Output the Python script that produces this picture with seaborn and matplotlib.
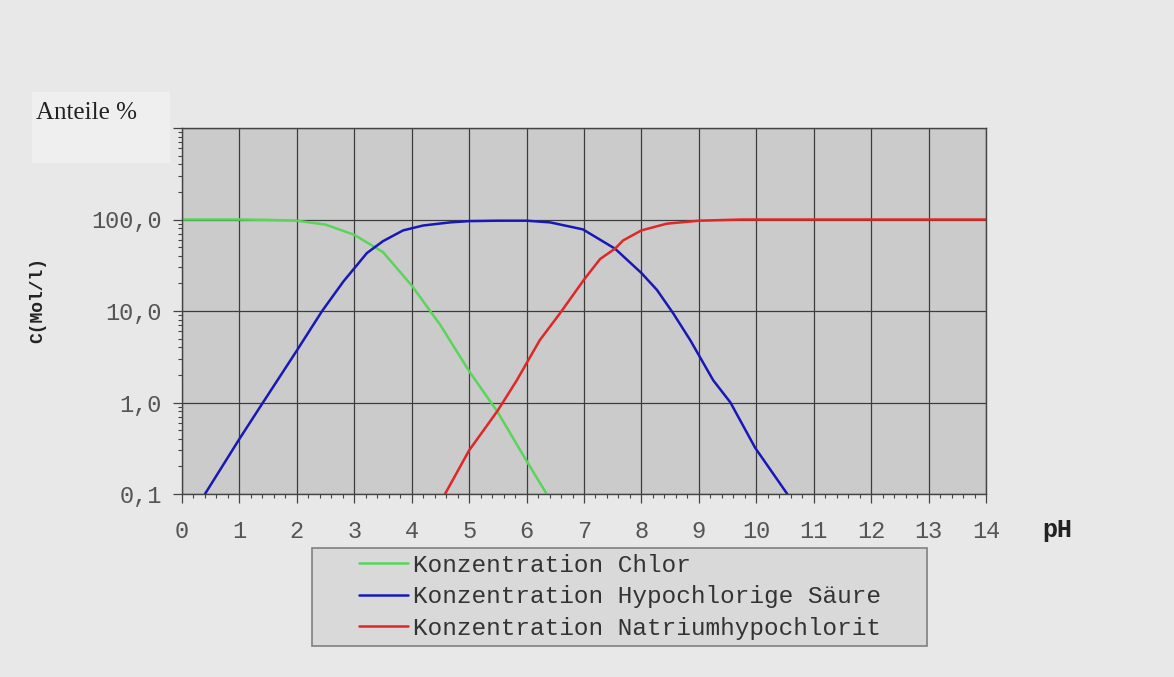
import pandas as pd
import seaborn as sns
import matplotlib.pyplot as plt
from matplotlib.patches import Rectangle
from matplotlib.ticker import MultipleLocator, LogLocator, FixedLocator, FixedFormatter, NullFormatter

# values (pH, concentration in %)
ph_chlor = [0.0, 1.0, 1.5, 2.0, 2.5, 3.0, 3.5, 4.0, 4.5, 5.0, 5.5, 6.0, 6.35]
c_chlor = [100, 100, 99, 97, 88, 68, 44, 19, 7.0, 2.2, 0.78, 0.23, 0.1]

ph_hocl = [0.4, 1.0, 1.41, 2.0, 2.44, 2.81, 3.22, 3.5, 3.85, 4.2, 4.67, 5.0, 5.5, 6.0,
           6.41, 6.98, 7.54, 8.0, 8.27, 8.55, 8.85, 9.25, 9.55, 9.98, 10.54]
c_hocl = [0.1, 0.4, 1.0, 3.7, 10, 21, 43, 58, 76, 86, 93, 96, 97, 97,
          93, 78, 48, 26, 17, 9.5, 4.8, 1.75, 1.0, 0.32, 0.1]

ph_ocl = [4.58, 5.0, 5.5, 5.83, 6.23, 6.58, 7.0, 7.28, 7.54, 7.68, 8.0, 8.44, 9.0, 9.75, 14.0]
c_ocl = [0.1, 0.3, 0.82, 1.75, 4.8, 9.4, 22, 37, 48, 59, 76, 90, 97, 100, 100]

series_names = ["Konzentration Chlor", "Konzentration Hypochlorige Säure",
                "Konzentration Natriumhypochlorit"]
series_colors = ["#5ad45a", "#1818b8", "#e02626"]

y_ticks = [0.1, 1, 10, 100, 1000]
y_ticklabels = ["0,1", "1,0", "10,0", "100,0", ""]

frames = []
for name, ph, c in zip(series_names, [ph_chlor, ph_hocl, ph_ocl], [c_chlor, c_hocl, c_ocl]):
    frames.append(pd.DataFrame({"pH": ph, "C": c, "Reihe": name}))
df = pd.concat(frames, ignore_index=True)

sns.set_style("ticks")
plt.rcParams["font.family"] = ["Liberation Mono", "DejaVu Sans Mono"]

W, H = 1174, 677
fig = plt.figure(figsize=(W / 100, H / 100), dpi=100, facecolor="#e8e8e8")
ax = fig.add_axes([182 / W, 1 - 494 / H, (986 - 182) / W, (494 - 128) / H])
ax.set_facecolor("#cbcbcb")

sns.lineplot(data=df, x="pH", y="C", hue="Reihe", hue_order=series_names,
             palette=series_colors, linewidth=1.8, estimator=None, sort=False, ax=ax)

ax.set_yscale("log")
ax.set_xlim(0, 14)
ax.set_ylim(0.1, 1000)

ax.xaxis.set_major_locator(MultipleLocator(1))
ax.xaxis.set_minor_locator(MultipleLocator(0.2))
ax.yaxis.set_major_locator(FixedLocator(y_ticks))
ax.yaxis.set_major_formatter(FixedFormatter(y_ticklabels))
ax.yaxis.set_minor_locator(LogLocator(base=10, subs=range(2, 10)))
ax.yaxis.set_minor_formatter(NullFormatter())

ax.grid(True, which="major", color="#3c3c3c", linewidth=0.9)
ax.set_axisbelow(True)
for sp in ax.spines.values():
    sp.set_color("#444444")
    sp.set_linewidth(1.0)

ax.tick_params(axis="both", which="major", direction="out", length=6.5, width=0.9,
               color="#444444", labelcolor="#555555", labelsize=17)
ax.tick_params(axis="both", which="minor", direction="out", length=3.2, width=0.8,
               color="#444444")
ax.tick_params(axis="x", which="major", pad=12)
ax.tick_params(axis="y", which="major", pad=8)

ax.set_ylabel("C(Mol/l)", fontweight="bold", fontsize=13, color="#222222")
ax.yaxis.set_label_coords((46 - 182) / 804, (494 - 300) / 366)
ax.set_xlabel("pH", fontweight="bold", fontsize=18, color="#222222")
ax.xaxis.set_label_coords((1057 - 182) / 804, (494 - 530) / 366)
ax.xaxis.label.set_va("center")

# "Anteile %" caption with its light box
fig.patches.append(Rectangle((32 / W, 1 - 163 / H), 138 / W, 71 / H, transform=fig.transFigure,
                             facecolor="#efefef", edgecolor="none", zorder=-1))
fig.text(36 / W, 1 - 113 / H, "Anteile %", family=["Liberation Serif", "DejaVu Serif"],
         fontsize=18, color="#222222", va="center", ha="left")

# legend below the plot, on its own framed box
fig.patches.append(Rectangle((312 / W, 1 - 646 / H), (927 - 312) / W, (646 - 548) / H,
                             transform=fig.transFigure, facecolor="#d9d9d9",
                             edgecolor="#808080", linewidth=1.2, zorder=-1))
handles, labels = ax.get_legend_handles_labels()
leg = ax.legend(handles, labels, loc="upper left", bbox_to_anchor=(359 / W, 1 - 554 / H),
                bbox_transform=fig.transFigure, frameon=False, fontsize=17.6,
                handlelength=2.0, handletextpad=0.2, borderpad=0, borderaxespad=0,
                labelspacing=0.34, labelcolor="#333333")
leg.set_zorder(5)

fig.savefig("out.png", dpi=100, facecolor=fig.get_facecolor())
